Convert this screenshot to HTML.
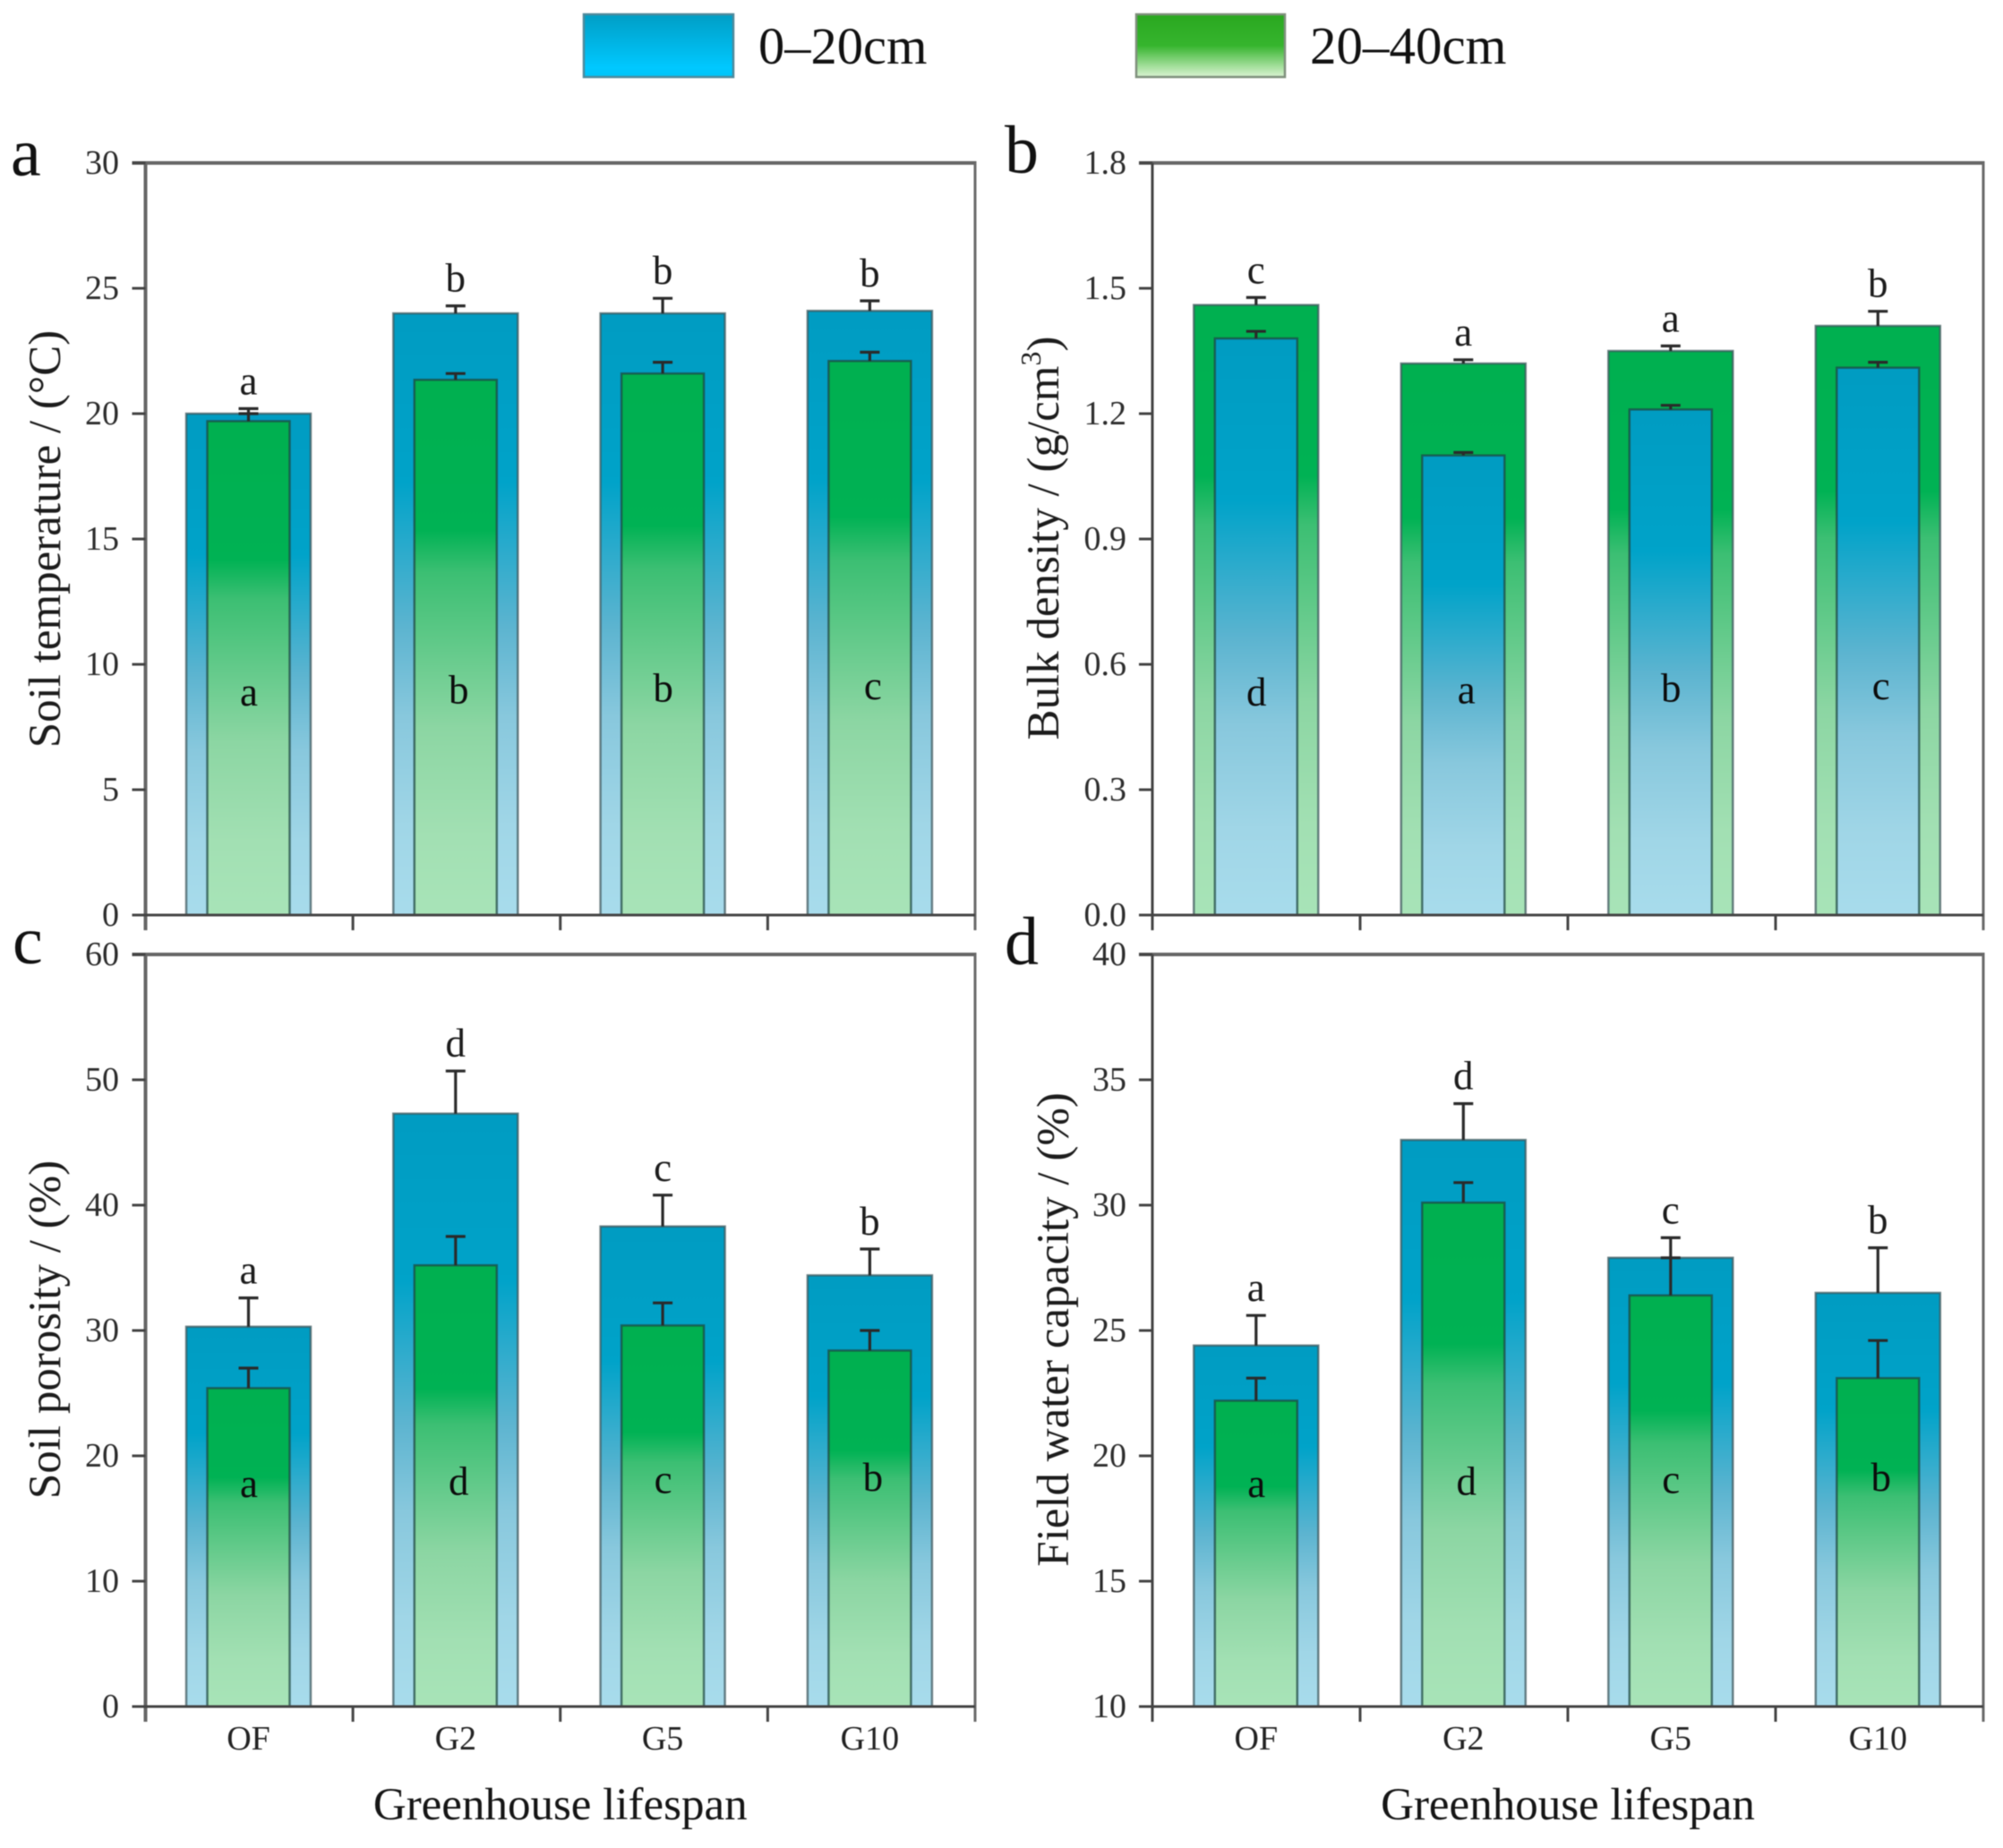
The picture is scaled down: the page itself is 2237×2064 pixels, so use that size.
<!DOCTYPE html>
<html lang="en">
<head>
<meta charset="utf-8">
<title>Soil physical properties by greenhouse lifespan</title>
<style>
  html, body { margin: 0; padding: 0; background: #fff; }
  svg { display: block; filter: blur(0.6px); }
  text { font-family: "Liberation Serif", serif; }
</style>
</head>
<body>
<svg id="chart" xmlns="http://www.w3.org/2000/svg" width="2237" height="2064" viewBox="0 0 2237 2064">
  <defs>
    <linearGradient id="blue-bar" x1="0" y1="0" x2="0" y2="1">
      <stop offset="0" stop-color="#009cc2"/>
      <stop offset="0.28" stop-color="#00a3c9"/>
      <stop offset="0.52" stop-color="#5cb4d0"/>
      <stop offset="0.67" stop-color="#88c8dd"/>
      <stop offset="0.85" stop-color="#a0d6e7"/>
      <stop offset="1" stop-color="#a8dcec"/>
    </linearGradient>
    <linearGradient id="green-bar" x1="0" y1="0" x2="0" y2="1">
      <stop offset="0" stop-color="#00b050"/>
      <stop offset="0.28" stop-color="#00b254"/>
      <stop offset="0.36" stop-color="#3cbf73"/>
      <stop offset="0.65" stop-color="#8cd6a3"/>
      <stop offset="0.85" stop-color="#a2e0b3"/>
      <stop offset="1" stop-color="#a8e4b8"/>
    </linearGradient>
    <linearGradient id="legend-blue" x1="0" y1="0" x2="0" y2="1">
      <stop offset="0" stop-color="#009ec5"/>
      <stop offset="0.85" stop-color="#00c8ff"/>
      <stop offset="1" stop-color="#00c4f8"/>
    </linearGradient>
    <linearGradient id="legend-green" x1="0" y1="0" x2="0" y2="1">
      <stop offset="0" stop-color="#2aa820"/>
      <stop offset="0.5" stop-color="#36b52e"/>
      <stop offset="0.95" stop-color="#cbeec3"/>
      <stop offset="1" stop-color="#d4f0cd"/>
    </linearGradient>
  </defs>
  <rect x="0" y="0" width="2237" height="2064" fill="#ffffff"/>
  <g>
    <g>
      <rect x="652" y="16" width="167" height="70" fill="url(#legend-blue)" stroke="#4d8a9c" stroke-width="2.5"/>
      <text x="847" y="71" font-size="58.5" fill="#111">0–20cm</text>
    </g>
    <g>
      <rect x="1269" y="16" width="166" height="70" fill="url(#legend-green)" stroke="#7f8f7c" stroke-width="2.5"/>
      <text x="1463" y="71" font-size="59" fill="#111">20–40cm</text>
    </g>
  </g>
</svg>
<script>
const categories = ['OF', 'G2', 'G5', 'G10'];

const tempTicks = ['0', '5', '10', '15', '20', '25', '30'];
const tempShallow = [20, 24, 24, 24.1];
const tempShallowErr = [0.2, 0.3, 0.6, 0.4];
const tempDeep = [19.7, 21.35, 21.6, 22.1];
const tempDeepErr = [0.3, 0.25, 0.45, 0.35];
const tempLettersTop = ['a', 'b', 'b', 'b'];
const tempLettersLow = ['a', 'b', 'b', 'c'];

const bulkTicks = ['0.0', '0.3', '0.6', '0.9', '1.2', '1.5', '1.8'];
const bulkShallow = [1.38, 1.10, 1.21, 1.31];
const bulkShallowErr = [0.017, 0.007, 0.01, 0.013];
const bulkDeep = [1.46, 1.32, 1.35, 1.41];
const bulkDeepErr = [0.018, 0.009, 0.012, 0.035];
const bulkLettersTop = ['c', 'a', 'a', 'b'];
const bulkLettersLow = ['d', 'a', 'b', 'c'];

const porosityTicks = ['0', '10', '20', '30', '40', '50', '60'];
const porosityShallow = [30.3, 47.3, 38.3, 34.4];
const porosityShallowErr = [2.3, 3.4, 2.5, 2.1];
const porosityDeep = [25.4, 35.2, 30.4, 28.4];
const porosityDeepErr = [1.6, 2.3, 1.8, 1.6];
const porosityLettersTop = ['a', 'd', 'c', 'b'];
const porosityLettersLow = ['a', 'd', 'c', 'b'];

const capacityTicks = ['10', '15', '20', '25', '30', '35', '40'];
const capacityShallow = [24.4, 32.6, 27.9, 26.5];
const capacityShallowErr = [1.2, 1.45, 0.8, 1.8];
const capacityDeep = [22.2, 30.1, 26.4, 23.1];
const capacityDeepErr = [0.9, 0.8, 1.5, 1.5];
const capacityLettersTop = ['a', 'd', 'c', 'b'];
const capacityLettersLow = ['a', 'd', 'c', 'b'];

const svg = document.getElementById('chart');
const NS = 'http://www.w3.org/2000/svg';

function mk(tag, parent, attrs, txt) {
  const el = document.createElementNS(NS, tag);
  for (const k in attrs) el.setAttribute(k, attrs[k]);
  if (txt !== undefined) el.textContent = txt;
  parent.appendChild(el);
  return el;
}

const panels = [
  { id: 'a', title: 'Soil temperature / (°C)', left: 162.5, right: 1089, top: 182, bottom: 1022,
    ticks: tempTicks, shallow: tempShallow, shallowErr: tempShallowErr, deep: tempDeep, deepErr: tempDeepErr,
    lettersTop: tempLettersTop, lettersLow: tempLettersLow, outer: 'shallow',
    firstCenter: 277.5, step: 231.3, axisW: 4, tickEnd: 133, letterX: 12, letterY: 196, titleX: 67, titleY: 602, hasFoot: false },
  { id: 'b', title: 'Bulk density / (g/cm', left: 1287, right: 2215, top: 182, bottom: 1022,
    ticks: bulkTicks, shallow: bulkShallow, shallowErr: bulkShallowErr, deep: bulkDeep, deepErr: bulkDeepErr,
    lettersTop: bulkLettersTop, lettersLow: bulkLettersLow, outer: 'deep',
    firstCenter: 1402.8, step: 231.5, axisW: 3, tickEnd: 1258, letterX: 1122, letterY: 193, titleX: 1182, titleY: 601, hasFoot: false, sup: true },
  { id: 'c', title: 'Soil porosity / (%)', left: 162.5, right: 1089, top: 1066, bottom: 1906,
    ticks: porosityTicks, shallow: porosityShallow, shallowErr: porosityShallowErr, deep: porosityDeep, deepErr: porosityDeepErr,
    lettersTop: porosityLettersTop, lettersLow: porosityLettersLow, outer: 'shallow',
    firstCenter: 277.5, step: 231.3, axisW: 4, tickEnd: 133, letterX: 14, letterY: 1076, titleX: 67, titleY: 1485, hasFoot: true },
  { id: 'd', title: 'Field water capacity / (%)', left: 1287, right: 2215, top: 1066, bottom: 1906,
    ticks: capacityTicks, shallow: capacityShallow, shallowErr: capacityShallowErr, deep: capacityDeep, deepErr: capacityDeepErr,
    lettersTop: capacityLettersTop, lettersLow: capacityLettersLow, outer: 'shallow',
    firstCenter: 1402.8, step: 231.5, axisW: 3, tickEnd: 1258, letterX: 1122, letterY: 1077, titleX: 1193, titleY: 1485, hasFoot: true }
];

function drawBar(g, series, errs, isOuter, fillId, cx, yScale, base, name) {
  const halfW = isOuter ? 69.5 : 46;
  series.forEach(function (v, i) {
    const c = cx(i);
    const y0 = yScale(v);
    const bar = mk('rect', g, { x: c - halfW, y: y0, width: halfW * 2, height: base - y0,
      fill: 'url(#' + fillId + ')', stroke: isOuter ? 'rgba(60,85,90,0.72)' : 'rgba(30,70,65,0.72)', 'stroke-width': 2.5 });
    
    
    const yE = yScale(v + errs[i]);
    const stem = mk('line', g, { x1: c, x2: c, y1: y0, y2: yE, stroke: '#2a2a2a', 'stroke-width': 3.2 });
    
    
    const cap = mk('line', g, { x1: c - 11, x2: c + 11, y1: yE, y2: yE, stroke: '#2a2a2a', 'stroke-width': 3.2 });
    
    
  });
}

panels.forEach(function (p) {
  const g = mk('g', svg, {});
  
  

  const minV = parseFloat(p.ticks[0]);
  const maxV = parseFloat(p.ticks[p.ticks.length - 1]);
  const yScale = function (v) { return p.bottom - (v - minV) / (maxV - minV) * (p.bottom - p.top); };
  const cx = function (i) { return p.firstCenter + i * p.step; };

  const outerIsShallow = p.outer === 'shallow';
  if (outerIsShallow) {
    drawBar(g, p.shallow, p.shallowErr, true, 'blue-bar', cx, yScale, p.bottom, '0-20cm');
    drawBar(g, p.deep, p.deepErr, false, 'green-bar', cx, yScale, p.bottom, '20-40cm');
  } else {
    drawBar(g, p.deep, p.deepErr, true, 'green-bar', cx, yScale, p.bottom, '20-40cm');
    drawBar(g, p.shallow, p.shallowErr, false, 'blue-bar', cx, yScale, p.bottom, '0-20cm');
  }

  categories.forEach(function (cat, i) {
    const topV = Math.max(p.shallow[i] + p.shallowErr[i], p.deep[i] + p.deepErr[i]);
    const t1 = mk('text', g, { x: cx(i), y: yScale(topV) - 16, 'font-size': 45, 'text-anchor': 'middle', fill: '#1c1c1c' }, p.lettersTop[i]);
    
    
    const t2 = mk('text', g, { x: cx(i) + (i % 2 ? 3.5 : 0.5), y: p.bottom - 234 - i * 2.3, 'font-size': 45, 'text-anchor': 'middle', fill: '#0c0c0c' }, p.lettersLow[i]);
    
    
  });

  const foot = 17;
  const axisTop = mk('line', g, { x1: p.left - 15, x2: p.right + 1.5, y1: p.top, y2: p.top, stroke: '#666', 'stroke-width': 4 });
  
  
  const axisLeft = mk('line', g, { x1: p.left, x2: p.left, y1: p.top, y2: p.bottom + foot, stroke: p.axisW === 4 ? '#666' : '#444', 'stroke-width': p.axisW });
  
  
  const axisRight = mk('line', g, { x1: p.right, x2: p.right, y1: p.top, y2: p.bottom + foot, stroke: '#6a6a6a', 'stroke-width': 3 });
  
  
  const axisBottom = mk('line', g, { x1: p.left - 15, x2: p.right, y1: p.bottom, y2: p.bottom, stroke: '#444', 'stroke-width': 3 });
  
  

  p.ticks.forEach(function (label) {
    const y = yScale(parseFloat(label));
    const tick = mk('line', g, { x1: p.left - 15, x2: p.left, y1: y, y2: y, stroke: '#444', 'stroke-width': 3 });
    
    
    const lab = mk('text', g, { x: p.tickEnd, y: y + 12, 'font-size': 38, 'text-anchor': 'end', fill: '#2c2c2c' }, label);
    
    
  });

  for (let k = 1; k < categories.length; k++) {
    const x = p.left + (p.right - p.left) * k / categories.length;
    const tick = mk('line', g, { x1: x, x2: x, y1: p.bottom, y2: p.bottom + foot, stroke: '#444', 'stroke-width': 3 });
    
    
  }

  if (p.hasFoot) {
    categories.forEach(function (cat, i) {
      const lab = mk('text', g, { x: cx(i), y: p.bottom + 48, 'font-size': 38, 'text-anchor': 'middle', fill: '#222' }, cat);
      
      
    });
    const xt = mk('text', g, { x: (p.left + p.right) / 2, y: 2032, 'font-size': 51, 'text-anchor': 'middle', fill: '#151515' }, 'Greenhouse lifespan');
    
    
  }

  const yt = mk('text', g, { x: 0, y: 0, 'font-size': 51, 'text-anchor': 'middle', fill: '#1c1c1c',
    transform: 'translate(' + p.titleX + ',' + p.titleY + ') rotate(-90)' }, p.title);
  
  
  if (p.sup) {
    mk('tspan', yt, { dy: -20, 'font-size': 32 }, '3');
    mk('tspan', yt, { dy: 20 }, ')');
  }

  const letter = mk('text', g, { x: p.letterX, y: p.letterY, 'font-size': 76, fill: '#111' }, p.id);
  
  
});
</script>
</body>
</html>
